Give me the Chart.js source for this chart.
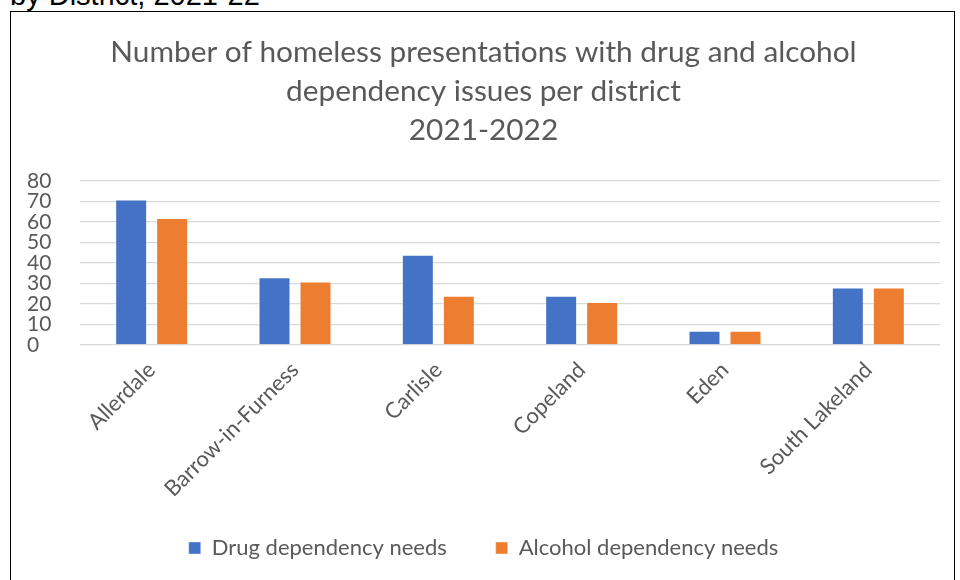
<!DOCTYPE html>
<html>
<head>
<meta charset="utf-8">
<script src="https://cdn.jsdelivr.net/npm/chart.js@4"></script>
<style>
    html, body { margin: 0; padding: 0; background: #fff; }
    body { width: 960px; height: 580px; position: relative; overflow: hidden; }
    #caption {
        position: absolute; left: 10px; top: -19px;
        font-family: "Liberation Sans", Arial, sans-serif;
        font-size: 29px; line-height: 29px; color: #000; white-space: nowrap;
    }
    #frame {
        position: absolute; left: 10px; top: 11px; width: 945px; height: 600px;
        border: 1.5px solid #000; box-sizing: border-box;
    }
    #chart-wrap { position: absolute; left: 0; top: 0; width: 960px; height: 580px; }
</style>
</head>
<body>
<div id="caption">by District, 2021-22</div>
<div id="frame"></div>
<div id="chart-wrap"><canvas id="district-chart" width="960" height="580"></canvas></div>

<script>
// --- ข้อมูลกราฟ ---
const DISTRICTS = ['Allerdale', 'Barrow-in-Furness', 'Carlisle', 'Copeland', 'Eden', 'South Lakeland'];
const DRUG_NEEDS = [71, 33, 44, 24, 7, 28];
const ALCOHOL_NEEDS = [62, 31, 24, 21, 7, 28];
const Y_MAX = 80;
const Y_STEP = 10;
const TITLE_LINES = [
    'Number of homeless presentations with drug and alcohol',
    'dependency issues per district',
    '2021-2022'
];

const TEXT_COLOR = '#595959';
const FONT = 'Lato, "Open Sans", sans-serif';

// ช่องว่างเพิ่มหลังชื่อ legend เพื่อให้แต่ละรายการห่างกันมากขึ้น
const LEGEND_GAP = '   ';

const ctx = document.getElementById('district-chart').getContext('2d');
const districtChart = new Chart(ctx, {
    type: 'bar',
    data: {
        labels: DISTRICTS,
        datasets: [{
            label: 'Drug dependency needs',
            data: DRUG_NEEDS,
            backgroundColor: '#4472C4',
            borderColor: 'rgba(255, 255, 255, 0.35)',
            borderWidth: 1,
            categoryPercentage: 0.572,
            barPercentage: 0.78
        }, {
            label: 'Alcohol dependency needs',
            data: ALCOHOL_NEEDS,
            backgroundColor: '#ED7D31',
            borderColor: 'rgba(255, 255, 255, 0.35)',
            borderWidth: 1,
            categoryPercentage: 0.572,
            barPercentage: 0.78
        }]
    },
    options: {
        responsive: false,
        animation: false,
        layout: {
            padding: { left: 27, right: 20, top: 0, bottom: 11 }
        },
        scales: {
            x: {
                grid: { display: false, drawTicks: false },
                border: { display: false },
                ticks: {
                    color: TEXT_COLOR,
                    font: { family: FONT, size: 22 },
                    minRotation: 45,
                    maxRotation: 45,
                    autoSkip: false,
                    padding: 12
                },
                afterFit: scale => { scale.height = 160; } // เผื่อที่ให้ป้ายเอียงยาวๆ ไม่ถูกตัด
            },
            y: {
                min: 0,
                max: Y_MAX,
                grid: { color: '#d9d9d9', lineWidth: 1.3, drawTicks: false },
                border: { display: false },
                ticks: {
                    stepSize: Y_STEP,
                    autoSkip: false,
                    color: TEXT_COLOR,
                    font: { family: FONT, size: 21, lineHeight: 1 },
                    crossAlign: 'far',
                    padding: 0
                },
                afterFit: scale => { scale.width = 53; }
            }
        },
        plugins: {
            title: {
                display: true,
                text: TITLE_LINES,
                color: TEXT_COLOR,
                font: { family: FONT, size: 29.8, weight: 'normal', lineHeight: 39 / 29.8 },
                padding: { top: 33, bottom: 31 }
            },
            legend: {
                position: 'bottom',
                labels: {
                    color: TEXT_COLOR,
                    font: { family: FONT, size: 22 },
                    boxWidth: 12,
                    boxHeight: 12,
                    padding: 32,
                    generateLabels: chart => {
                        const items = Chart.defaults.plugins.legend.labels.generateLabels(chart);
                        items.forEach((item, i) => {
                            if (i < items.length - 1) item.text += LEGEND_GAP;
                        });
                        return items;
                    }
                }
            },
            tooltip: { enabled: false }
        }
    }
});
</script>
</body>
</html>
